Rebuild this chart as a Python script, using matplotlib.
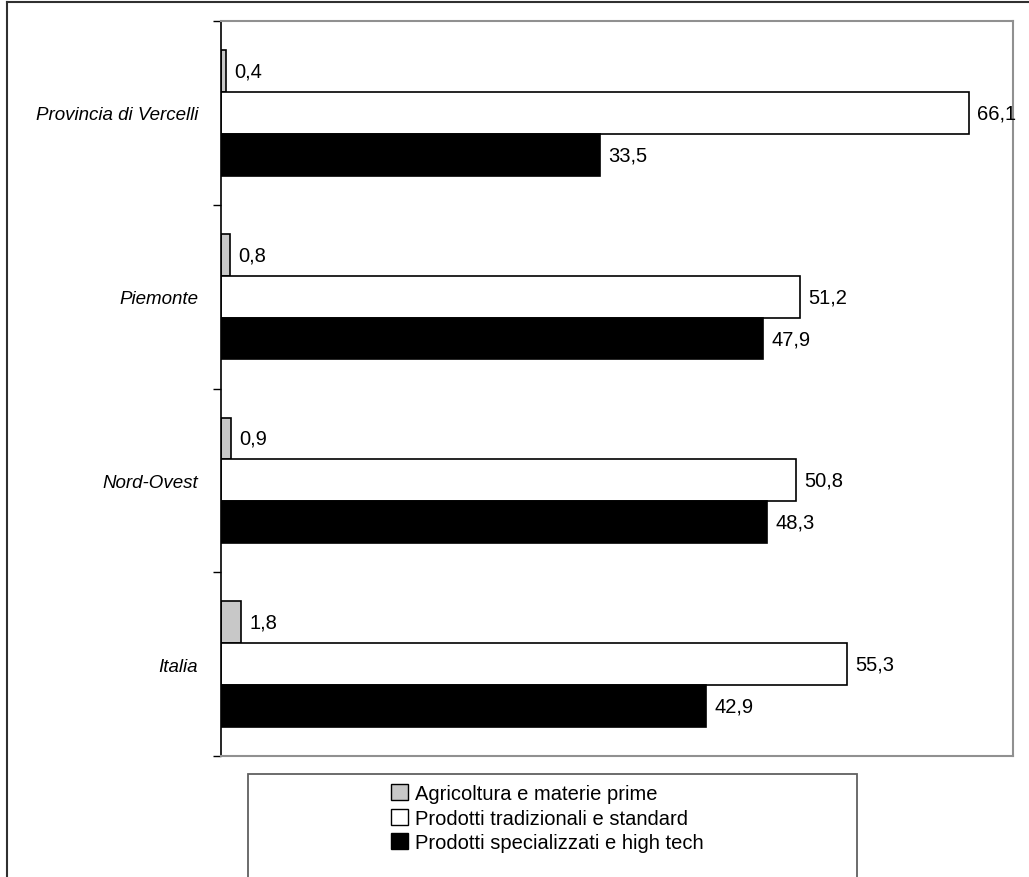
import matplotlib.pyplot as plt
import matplotlib.patches as mpatches
import numpy as np

plt.rcParams['font.family'] = ['Liberation Sans', 'DejaVu Sans']

# data
categories = ['Provincia di Vercelli', 'Piemonte', 'Nord-Ovest', 'Italia']
series_names = ['Agricoltura e materie prime',
                'Prodotti tradizionali e standard',
                'Prodotti specializzati e high tech']
agricoltura = [0.4, 0.8, 0.9, 1.8]
tradizionali = [66.1, 51.2, 50.8, 55.3]
specializzati = [33.5, 47.9, 48.3, 42.9]

series = [agricoltura, tradizionali, specializzati]
colors = ['#c8c8c8', 'white', 'black']

W, H = 1029, 878
fig = plt.figure(figsize=(W / 100, H / 100), dpi=100)
ax = fig.add_axes([221 / W, 1 - 757 / H, (1013 - 221) / W, (757 - 22) / H])

y = np.arange(len(categories))
bh = 0.228
for i, (vals, col) in enumerate(zip(series, colors)):
    pos = y + (i - 1) * bh
    ax.barh(pos, vals, height=bh, color=col, edgecolor='black', linewidth=1.2)
    for p, v in zip(pos, vals):
        ax.annotate(f'{v:.1f}'.replace('.', ','), (v, p), xytext=(6, 0),
                    textcoords='offset points', va='center', ha='left', fontsize=14.5)

ax.set_xlim(0, 70)
ax.set_ylim(len(categories) - 0.5, -0.5)
ax.set_xticks([])

# ticks at group boundaries, labels at group centers
ax.set_yticks(np.arange(-0.5, len(categories), 1))
ax.set_yticklabels([])
ax.tick_params(axis='y', which='major', length=6, width=1, direction='out')
ax.set_yticks(y, minor=True)
ax.set_yticklabels(categories, minor=True, fontsize=13.5, style='italic')
ax.tick_params(axis='y', which='minor', length=0, pad=16.5)

ax.spines['left'].set_color('black')
ax.spines['left'].set_linewidth(1.2)
for s in ['top', 'right', 'bottom']:
    ax.spines[s].set_color('#909090')
    ax.spines[s].set_linewidth(1.5)

# outer chart frame (runs off the right and bottom edge)
fig.add_artist(plt.Line2D([7 / W, 7 / W], [0, 1 - 3 / H], transform=fig.transFigure,
                          color='#303030', linewidth=1.5))
fig.add_artist(plt.Line2D([7 / W, 1], [1 - 3 / H, 1 - 3 / H], transform=fig.transFigure,
                          color='#303030', linewidth=1.5))

# legend box
fig.add_artist(mpatches.Rectangle((248 / W, -0.01), (857 - 248) / W, 1 - 775 / H + 0.01,
                                  transform=fig.transFigure, facecolor='none',
                                  edgecolor='#606060', linewidth=1.3))
handles = [mpatches.Patch(facecolor=c, edgecolor='black', linewidth=1.0) for c in colors]
fig.legend(handles, series_names, loc='upper left',
           bbox_to_anchor=(391 / W, 1 - 785 / H), frameon=False, fontsize=14.5,
           handlelength=0.85, handleheight=0.85, handletextpad=0.35,
           labelspacing=0.28, borderpad=0, borderaxespad=0)

fig.savefig('out.png', dpi=100)
